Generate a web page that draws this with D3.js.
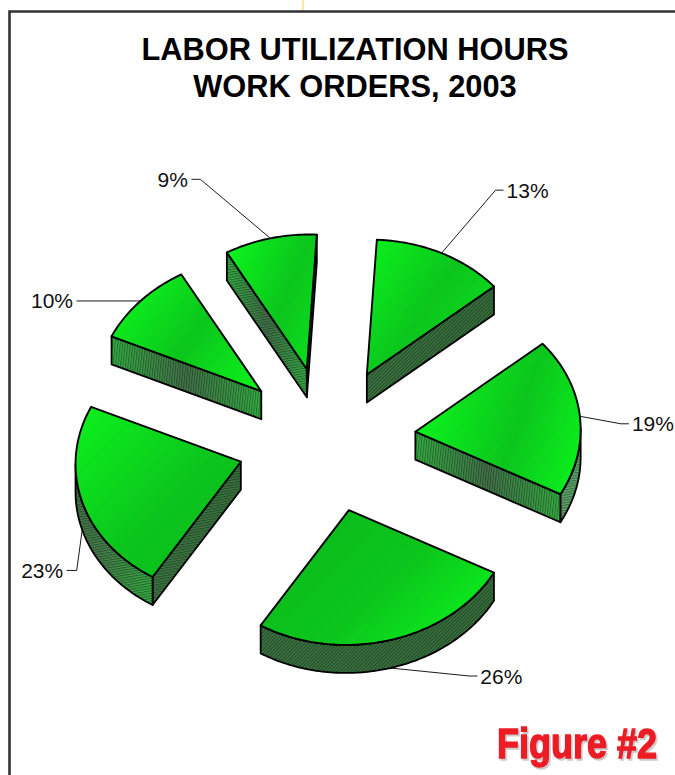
<!DOCTYPE html>
<html>
<head>
<meta charset="utf-8">
<script src="https://cdn.jsdelivr.net/npm/d3@7"></script>
<style>
  html, body { margin: 0; padding: 0; background: #fff; }
  svg { display: block; }
  text { font-family: "Liberation Sans", Arial, sans-serif; }
</style>
</head>
<body>
<div id="chart"></div>
<script>
// Share of labor hours per slice, clockwise from the top
const sliceShares = [13, 19, 26, 23, 10, 9];
const titleLines = ["LABOR UTILIZATION HOURS", "WORK ORDERS, 2003"];
const figureTag = "Figure #2";

// Leader elbow and label placement relative to each slice's rim point
const leaderElbow = [[54, -63], [41, 7.5], [79, 8], [-5.5, 40.5], [-64, 0], [-70, -59]];
const leaderRun = [8, 8, 8, -10, 0, -9];
// Leaders that leave from the bottom edge of the wall rather than the top rim
const leaderFromWall = [false, false, true, true, false, false];

// Tilted disc: screen vectors for the 0 and 90 degree radii
const axisUp = [10, -134.7];
const axisRight = [165, 5.75];
const centre = [326.5, 440];
const explode = 0.54;
const depth = 28;

const width = 675, height = 775;
const svg = d3.select("#chart").append("svg").attr("width", width).attr("height", height);
const defs = svg.append("defs");

// Fine screen over the top faces, coarser ones over the side walls
function hatch(id, size, angle, opacity, w) {
  const p = defs.append("pattern").attr("id", id).attr("width", size).attr("height", size)
    .attr("patternUnits", "userSpaceOnUse").attr("patternTransform", `rotate(${angle})`);
  p.append("rect").attr("width", w).attr("height", size).attr("fill", "#000").attr("fill-opacity", opacity);
}
hatch("hatchTop", 2, 45, 0.1, 1);
hatch("hatchDiag", 2.5, 45, 0.42, 1.1);
hatch("hatchFlat", 2.5, 80, 0.38, 1.1);
hatch("hatchUpright", 2.5, 6, 0.35, 1.1);

function gradient(id, v, stops) {
  const g = defs.append("linearGradient").attr("id", id)
    .attr("x1", v[0]).attr("y1", v[1]).attr("x2", v[2]).attr("y2", v[3]);
  stops.forEach(s => g.append("stop").attr("offset", s[0]).attr("stop-color", s[1]));
}

const bright = "#0cff1e", mid = "#0cd01e", deep = "#0ac41c", soft = "#0ce81e";
const topGradients = [
  [[0, 0, 1, 0.7], [[0, bright], [0.55, mid], [1, soft]]],
  [[0, 0.6, 1, 0.9], [[0, bright], [0.55, mid], [1, bright]]],
  [[0, 0.2, 1, 0.8], [[0, deep], [0.55, mid], [1, bright]]],
  [[0, 0, 1, 1], [[0, bright], [0.55, mid], [1, deep]]],
  [[0, 0.3, 1, 0.9], [[0, bright], [0.5, mid], [1, bright]]],
  [[0, 0.2, 1, 0.8], [[0, bright], [0.6, mid], [1, soft]]]
];
topGradients.forEach((g, i) => gradient("top" + i, g[0], g[1]));

const wallLight = "#36b044", wallDark = "#43744a";
gradient("wallBanded", [0, 0, 1, 0], [[0, wallLight], [0.5, wallDark], [1, wallLight]]);
gradient("wallDark", [0, 0, 1, 0], [[0, "#3e7a44"], [1, "#3a7640"]]);
gradient("wallSweep", [0, 0.1, 1, 0.9], [[0, "#44784a"], [0.5, "#46844c"], [1, wallLight]]);
gradient("wallPale", [0, 0, 1, 0], [[0, "#5fa86b"], [1, "#5fa86b"]]);

// Fill and screen per slice, for its straight walls and its curved wall
const radialWall = [
  ["wallDark", "hatchDiag"], ["wallBanded", "hatchUpright"], ["wallDark", "hatchDiag"],
  ["wallDark", "hatchFlat"], ["wallBanded", "hatchUpright"], ["wallBanded", "hatchFlat"]
];
const curvedWall = [
  ["wallDark", "hatchDiag"], ["wallPale", "hatchFlat"], ["wallDark", "hatchDiag"],
  ["wallSweep", "hatchFlat"], ["wallDark", "hatchDiag"], ["wallDark", "hatchDiag"]
];

const project = (theta, r) => [
  r * (axisUp[0] * Math.cos(theta) + axisRight[0] * Math.sin(theta)),
  r * (axisUp[1] * Math.cos(theta) + axisRight[1] * Math.sin(theta))
];
const line = d3.line();

const arcs = d3.pie().sort(null).value(d => d)(sliceShares);

arcs.forEach((a, i) => {
  const midAngle = (a.startAngle + a.endAngle) / 2;
  const off = project(midAngle, explode);
  const apex = [centre[0] + off[0], centre[1] + off[1]];
  const at = (theta) => {
    const p = project(theta, 1);
    return [apex[0] + p[0], apex[1] + p[1]];
  };
  const steps = Math.max(8, Math.round((a.endAngle - a.startAngle) * 180 / Math.PI));
  const rim = d3.range(steps + 1).map(k => at(a.startAngle + (a.endAngle - a.startAngle) * k / steps));
  const outline = [apex, ...rim];

  const g = svg.append("g");

  // Walls: a boundary run shows when it travels leftward on a clockwise outline
  const closed = [...outline, apex];
  let run = [];
  const runs = [];
  for (let k = 0; k < closed.length - 1; k++) {
    const isRadial = k === 0 || k === closed.length - 2;
    if (closed[k + 1][0] < closed[k][0]) {
      if (run.length && !isRadial && !run.radial) run.push(closed[k + 1]);
      else {
        if (run.length) runs.push(run);
        run = [closed[k], closed[k + 1]];
        run.radial = isRadial;
      }
    } else if (run.length) {
      runs.push(run);
      run = [];
    }
  }
  if (run.length) runs.push(run);

  runs.forEach(r => {
    const lower = r.map(p => [p[0], p[1] + depth]).reverse();
    const d = line([...r, ...lower]) + "Z";
    const style = r.radial ? radialWall[i] : curvedWall[i];
    g.append("path").attr("d", d).attr("fill", `url(#${style[0]})`);
    g.append("path").attr("d", d).attr("fill", `url(#${style[1]})`)
      .attr("stroke", "#000").attr("stroke-width", 1.8).attr("stroke-linejoin", "round");
  });

  const top = line(outline) + "Z";
  g.append("path").attr("d", top).attr("fill", `url(#top${i})`);
  g.append("path").attr("d", top).attr("fill", "url(#hatchTop)")
    .attr("stroke", "#000").attr("stroke-width", 1.9).attr("stroke-linejoin", "round");

  // Leader line and percentage label
  const rimPoint = at(midAngle);
  const anchor = [rimPoint[0], rimPoint[1] + (leaderFromWall[i] ? depth : 0)];
  const elbow = [anchor[0] + leaderElbow[i][0], anchor[1] + leaderElbow[i][1]];
  const end = [elbow[0] + leaderRun[i], elbow[1]];
  g.append("path").attr("d", line([anchor, elbow, end]))
    .attr("fill", "none").attr("stroke", "#000").attr("stroke-width", 0.9);
  const toRight = end[0] >= anchor[0];
  g.append("text").attr("x", end[0] + (toRight ? 3 : -3.5)).attr("y", end[1] + 7.5)
    .attr("text-anchor", toRight ? "start" : "end")
    .attr("font-size", 21).attr("fill", "#111").text(a.data + "%");
});

// Page frame and the stray margin rule above it
svg.append("path").attr("d", "M303 0V10").attr("stroke", "#fde7a6").attr("stroke-width", 2);
svg.append("path").attr("d", `M9.5 ${height}V11.5H${width}`)
  .attr("fill", "none").attr("stroke", "#333").attr("stroke-width", 2.6);

svg.selectAll("text.title").data(titleLines).join("text").attr("class", "title")
  .attr("x", 355).attr("y", (d, i) => 60 + i * 37)
  .attr("text-anchor", "middle").attr("font-size", 30.8).attr("font-weight", "bold")
  .attr("fill", "#000").text(d => d);

// Condensed red tag with a hard grey drop shadow
const tag = svg.append("text")
  .attr("font-size", 43).attr("font-weight", "bold")
  .attr("fill", "#ed1c24").attr("stroke", "#ed1c24").attr("stroke-width", 1.4)
  .style("filter", "drop-shadow(2px 2px 0 #c9c9c9)")
  .text(figureTag);
const squeeze = 160 / tag.node().getComputedTextLength();
tag.attr("transform", `translate(497,758) scale(${squeeze},1)`);
</script>
</body>
</html>
